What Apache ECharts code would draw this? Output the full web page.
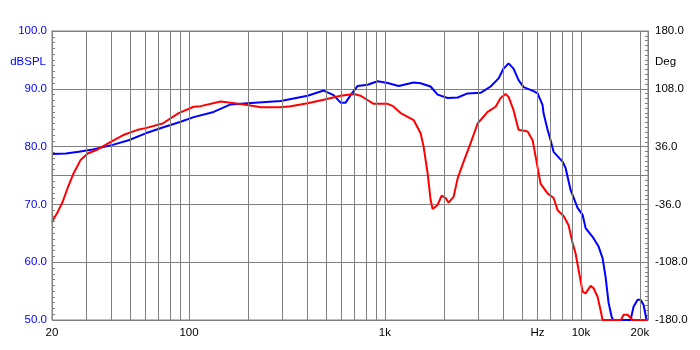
<!DOCTYPE html>
<html><head><meta charset="utf-8">
<script src="https://cdn.jsdelivr.net/npm/echarts@6/dist/echarts.min.js"></script>
<style>html,body{margin:0;padding:0;background:#fff}#c{width:700px;height:350px}</style>
</head><body><div id="c"></div>
<script>
// Blue curve (Hz, dBSPL)
const blueFreq = [20,23.5,27.4,32.3,40.8,49.2,60.1,73.4,90.7,105.7,133.7,163,199,294,403,487,547,594,630,668,726,816,918,1032,1175,1401,1521,1710,1857,2089,2350,2641,3077,3462,3803,4031,4275,4533,4808,5099,5737,6013,6370,6445,6760,7004,7256,8065,8354,8860,9617,10200,10570,11470,12310,12900,13360,13840,14340,14600,17930,18570,19460,20170,20890,21630];
const blueDb   = [78.7,78.8,79.1,79.5,80.3,81.1,82.3,83.3,84.3,85.1,86.0,87.3,87.5,87.9,88.8,89.7,88.9,87.6,87.6,88.9,90.5,90.7,91.3,91.0,90.5,91.1,90.95,90.4,89.0,88.4,88.5,89.2,89.3,90.4,91.8,93.5,94.4,93.5,91.5,90.3,89.6,89.2,87.2,85.8,82.9,81.1,79.1,77.4,76.3,72.5,69.4,68.2,65.9,64.4,62.7,60.7,57.5,53.0,50.6,50,50,52.3,53.5,53.5,52.6,50];
// Red curve (Hz, dBSPL)
const redFreq = [20,21.4,22.7,24.0,25.8,28.0,30.4,34.2,39.9,46.2,54.7,60.1,73.4,88.6,105.7,114.7,145.1,163.3,199.3,232.2,293.7,330.3,403.3,486.6,594.3,692.5,751.7,875.8,1032,1100,1203,1401,1521,1575,1651,1710,1751,1857,1946,2041,2113,2241,2350,2521,2737,2971,3343,3671,3892,4127,4275,4533,4808,5346,5670,5873,6223,6760,7256,7606,8161,8654,9072,9393,9731,10200,10570,11210,11610,12170,12600,12900,16000,16520,17310,18350,21880];
const redDb   = [67.0,68.7,70.5,72.8,75.4,77.7,78.8,79.5,80.8,82.0,82.9,83.2,84.0,85.8,86.9,87.0,87.8,87.6,87.2,86.8,86.8,87.0,87.5,88.1,88.8,89.1,88.8,87.4,87.4,87.0,85.8,84.6,82.3,80.0,75.4,70.8,69.2,69.9,71.5,71.1,70.3,71.3,74.5,77.4,80.6,84.0,86.0,86.9,88.4,89.1,88.6,86.3,82.9,82.6,81.1,78.3,73.6,71.9,71.1,69.0,68.0,66.4,63.3,61.5,58.7,54.9,54.6,55.9,55.5,54.0,51.7,50,50,50.9,50.9,50,50];
// Frequency grid lines and labels
const gridFreqs = [20,30,40,50,60,70,80,90,100,200,300,400,500,600,700,800,900,1000,2000,3000,4000,5000,6000,7000,8000,9000,10000,20000];
const labelFreqs = [20,100,1000,6000,10000,20000];
const labelTexts = ['20','100','1k','Hz','10k','20k'];

const GRID = '#808080';
const FONT = '"Liberation Sans", Arial, sans-serif';
const FS = 11.5;
const zip = (a,b)=>a.map((v,i)=>[v,b[i]]);

const mlData = gridFreqs.map(f=>{
  const li = labelFreqs.indexOf(f);
  const start = {coord:[f,50]};
  if (li >= 0) start.label = {show:true, position:'start', formatter: labelTexts[li], distance:7, color:'#000', fontFamily:FONT, fontSize:FS};
  return [start, {coord:[f,100]}];
});

const chart = echarts.init(document.getElementById('c'), null, {renderer:'canvas'});
chart.setOption({
  animation:false,
  backgroundColor:'#fff',
  grid:{left:52,right:52,top:31,bottom:30,show:true,borderColor:GRID,borderWidth:1,backgroundColor:'transparent'},
  xAxis:{type:'log',logBase:10,min:20,max:22000,
    axisLine:{show:true,lineStyle:{color:GRID}},axisTick:{show:false},axisLabel:{show:false},splitLine:{show:false}},
  yAxis:[
    {type:'value',min:50,max:100,interval:10,position:'left',
      name:'dBSPL',nameLocation:'end',nameGap:-30.5,
      nameTextStyle:{color:'#0000FF',fontFamily:FONT,fontSize:FS,align:'right',verticalAlign:'middle',padding:[0,6,0,0]},
      axisLine:{show:true,lineStyle:{color:GRID}},
      axisTick:{show:true,inside:true,length:3,lineStyle:{color:GRID}},
      minorTick:{show:true,splitNumber:10,length:3,lineStyle:{color:GRID}},
      axisLabel:{color:'#0000FF',fontFamily:FONT,fontSize:FS,margin:5,formatter:v=>v.toFixed(1)},
      splitLine:{show:true,lineStyle:{color:GRID,width:1}}},
    {type:'value',min:-180,max:180,interval:72,position:'right',
      name:'Deg',nameLocation:'end',nameGap:-30.5,
      nameTextStyle:{color:'#000',fontFamily:FONT,fontSize:FS,align:'left',verticalAlign:'middle',padding:[0,0,0,7]},
      axisLine:{show:true,lineStyle:{color:GRID}},
      axisTick:{show:true,inside:true,length:3,lineStyle:{color:GRID}},
      minorTick:{show:true,splitNumber:12,length:3,lineStyle:{color:GRID}},
      axisLabel:{color:'#000',fontFamily:FONT,fontSize:FS,margin:7,formatter:v=>v.toFixed(1)},
      splitLine:{show:false}}
  ],
  series:[
    {type:'line',z:1,data:[[20,50]],showSymbol:false,lineStyle:{opacity:0},silent:true,
      markLine:{silent:true,symbol:['none','none'],animation:false,
        lineStyle:{color:GRID,width:1,type:'solid'},label:{show:false},emphasis:{disabled:true},data:mlData}},
    {type:'line',z:3,data:zip(blueFreq,blueDb),showSymbol:false,clip:false,lineStyle:{color:'#0000FF',width:2},itemStyle:{color:'#0000FF'}},
    {type:'line',z:4,data:zip(redFreq,redDb),showSymbol:false,clip:false,lineStyle:{color:'#FF0000',width:2},itemStyle:{color:'#FF0000'}}
  ]
});
</script></body></html>
